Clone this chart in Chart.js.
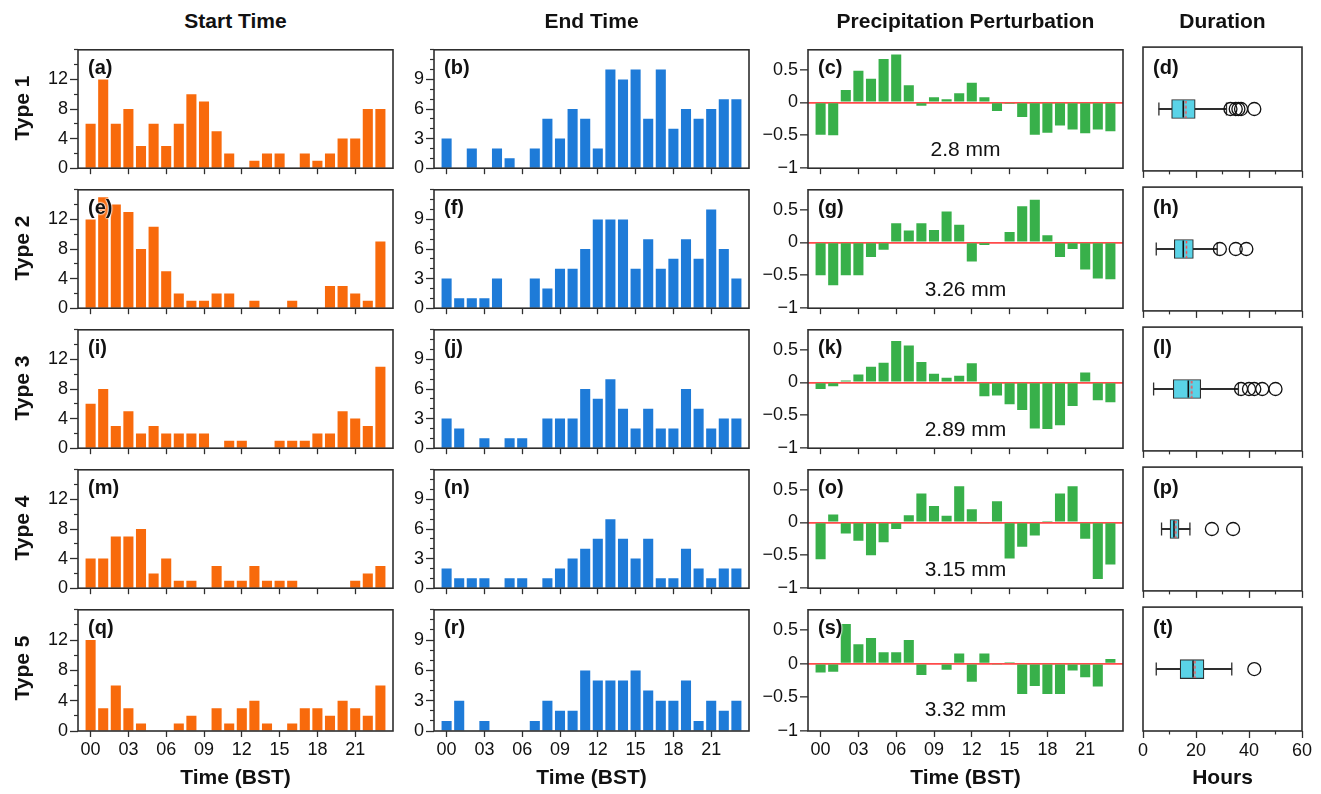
<!DOCTYPE html>
<html>
<head>
<meta charset="utf-8">
<script src="https://cdn.jsdelivr.net/npm/chart.js@4.4.1/dist/chart.umd.min.js"></script>
<style>
  body { margin: 0; background: #fff; width: 1321px; height: 794px; position: relative; overflow: hidden;
         font-family: 'Liberation Sans', Arial, Helvetica, sans-serif; color: #111; }
  canvas { position: absolute; }
  .lbl { position: absolute; white-space: nowrap; z-index: 5; }
</style>
</head>
<body>
<script>
// ---- data ----
const HOURS = [0,1,2,3,4,5,6,7,8,9,10,11,12,13,14,15,16,17,18,19,20,21,22,23];
const HOUR_TICKS = [0,3,6,9,12,15,18,21];
const HOUR_LABELS = ['00','03','06','09','12','15','18','21'];
const TYPE_NAMES = ['Type 1','Type 2','Type 3','Type 4','Type 5'];
const COL_TITLES = ['Start Time','End Time','Precipitation Perturbation','Duration'];
const PANEL_LETTERS = [['(a)','(b)','(c)','(d)'],['(e)','(f)','(g)','(h)'],['(i)','(j)','(k)','(l)'],
                       ['(m)','(n)','(o)','(p)'],['(q)','(r)','(s)','(t)']];
const MM_LABELS = ['2.8 mm','3.26 mm','2.89 mm','3.15 mm','3.32 mm'];

const START_1 = [6,12,6,8,3,6,3,6,10,9,5,2,0,1,2,2,0,2,1,2,4,4,8,8];
const START_2 = [12,15,14,13,8,11,5,2,1,1,2,2,0,1,0,0,1,0,0,3,3,2,1,9];
const START_3 = [6,8,3,5,2,3,2,2,2,2,0,1,1,0,0,1,1,1,2,2,5,4,3,11];
const START_4 = [4,4,7,7,8,2,4,1,1,0,3,1,1,3,1,1,1,0,0,0,0,1,2,3];
const START_5 = [12,3,6,3,1,0,0,1,2,0,3,1,3,4,1,0,1,3,3,2,4,3,2,6];

const END_1 = [3,0,2,0,2,1,0,2,5,3,6,5,2,10,9,10,5,10,4,6,5,6,7,7];
const END_2 = [3,1,1,1,3,0,0,3,2,4,4,6,9,9,9,4,7,4,5,7,5,10,6,3];
const END_3 = [3,2,0,1,0,1,1,0,3,3,3,6,5,7,4,2,4,2,2,6,4,2,3,3];
const END_4 = [2,1,1,1,0,1,1,0,1,2,3,4,5,7,5,3,5,1,1,4,2,1,2,2];
const END_5 = [1,3,0,1,0,0,0,1,3,2,2,6,5,5,5,6,4,3,3,5,1,3,2,3];

const PRECIP_1 = [-0.49,-0.5,0.19,0.48,0.36,0.66,0.73,0.26,-0.05,0.08,0.05,0.14,0.3,0.08,-0.13,-0.02,-0.22,-0.49,-0.46,-0.35,-0.41,-0.47,-0.41,-0.44];
const PRECIP_2 = [-0.5,-0.65,-0.5,-0.5,-0.22,-0.11,0.29,0.18,0.29,0.19,0.47,0.27,-0.29,-0.04,0,0.16,0.55,0.65,0.11,-0.22,-0.1,-0.41,-0.55,-0.56];
const PRECIP_3 = [-0.1,-0.06,0.03,0.12,0.24,0.3,0.63,0.56,0.31,0.13,0.07,0.1,0.29,-0.21,-0.2,-0.33,-0.42,-0.7,-0.71,-0.65,-0.36,0.15,-0.27,-0.3];
const PRECIP_4 = [-0.56,0.12,-0.17,-0.28,-0.5,-0.3,-0.1,0.11,0.44,0.25,0.1,0.55,0.2,-0.01,0.32,-0.55,-0.37,-0.2,0.02,0.44,0.55,-0.25,-0.86,-0.64];
const PRECIP_5 = [-0.13,-0.12,0.59,0.29,0.38,0.17,0.17,0.35,-0.17,0,-0.09,0.15,-0.27,0.15,-0.01,0.02,-0.45,-0.33,-0.45,-0.45,-0.1,-0.2,-0.34,0.07];

// duration box plots (hours), one value per type
const DUR_LOW  = [6, 5, 4, 7, 5];
const DUR_Q1   = [10.8, 11.8, 11.4, 10.2, 14];
const DUR_MED  = [15.2, 15.2, 17.1, 11.7, 18.9];
const DUR_MEAN = [16.2, 16.4, 18.4, 12.4, 19.6];
const DUR_Q3   = [19.7, 19, 21.8, 13.6, 23];
const DUR_HIGH = [31.5, 28, 36, 17.7, 33.5];
const DUR_OUT_1 = [33, 35, 36, 37, 42];
const DUR_OUT_2 = [29, 35, 39];
const DUR_OUT_3 = [37, 40, 42, 45, 50];
const DUR_OUT_4 = [26, 34];
const DUR_OUT_5 = [42];

const START_Y_TICKS = [0,4,8,12];
const START_Y_MINOR = [2,6,10,14,16];
const END_Y_TICKS = [0,3,6,9];
const END_Y_MINOR = [1,2,4,5,7,8,10,11,12];
const PRECIP_Y_TICKS = [-1,-0.5,0,0.5];
const PRECIP_Y_LABELS = ['\u22121','\u22120.5','0','0.5'];
const DUR_X_TICKS = [0,20,40,60];
const DUR_X_MINOR = [10,30,50];

const START = [START_1, START_2, START_3, START_4, START_5];
const END = [END_1, END_2, END_3, END_4, END_5];
const PRECIP = [PRECIP_1, PRECIP_2, PRECIP_3, PRECIP_4, PRECIP_5];
const DUR_OUT = [DUR_OUT_1, DUR_OUT_2, DUR_OUT_3, DUR_OUT_4, DUR_OUT_5];

// ---- layout / style ----
const COL_LEFT = [78, 434, 808, 1143];
const COL_RIGHT = [393, 749, 1123, 1302];
const ROW_TOP = [45, 185, 325, 465, 605];
const PLOT_H = 126;
const AX = '#2e2e2e';
const TXT = '#111';
const ORANGE = '#f86a0c', BLUE = '#1e7bd8', GREEN = '#38b04a', CYAN = '#5ad3e7', ZERO = '#ff4a4a';
const TICK_FONT = { size: 18 };
Chart.defaults.font.family = "'Liberation Sans', Arial, sans-serif";
Chart.defaults.color = TXT;

const framePlugin = {
  id: 'frame',
  afterDraw(chart) {
    const a = chart.chartArea, c = chart.ctx;
    c.save();
    c.strokeStyle = AX; c.lineWidth = 1.6;
    c.strokeRect(a.left, a.top, a.right - a.left, a.bottom - a.top);
    c.restore();
  }
};

const fixedTicks = list => s => { s.ticks = list.map(v => ({ value: v })); };

function makeCanvas(col, row) {
  const bottom = row === 4;
  const L = col < 3 ? 56 : 16, R = col < 3 ? 8 : 16, T = 8, B = bottom ? 34 : 10;
  const w = COL_RIGHT[col] - COL_LEFT[col] + L + R, h = PLOT_H + T + B;
  const cv = document.createElement('canvas');
  cv.width = w; cv.height = h;
  cv.style.left = (COL_LEFT[col] - L) + 'px';
  cv.style.top = (ROW_TOP[row] - T) + 'px';
  cv.style.width = w + 'px'; cv.style.height = h + 'px';
  document.body.appendChild(cv);
  return { cv, L, R, T, B, bottom };
}

function baseOptions(p, padLeft) {
  return {
    responsive: false, animation: false, events: [],
    layout: { padding: { left: padLeft, right: p.R, top: p.T, bottom: 0 } },
    plugins: { legend: { display: false }, tooltip: { enabled: false } }
  };
}

function timeX(p) {
  return {
    type: 'linear', axis: 'x', min: -1, max: 24, offset: false,
    afterBuildTicks: fixedTicks(HOUR_TICKS),
    afterFit: s => { s.height = p.B; },
    ticks: { display: p.bottom, autoSkip: false, maxRotation: 0, padding: 2, color: TXT,
             font: TICK_FONT, callback: (v, i) => HOUR_LABELS[i] },
    grid: { drawOnChartArea: false, offset: false, tickLength: 6, tickWidth: 1.3, tickColor: AX },
    border: { display: false }
  };
}

function countY(p, max, majors, minors) {
  return {
    y: { type: 'linear', axis: 'y', position: 'left', weight: 1, min: 0, max,
         afterBuildTicks: fixedTicks(majors), afterFit: s => { s.width = p.L; },
         ticks: { autoSkip: false, padding: 2, color: TXT, font: TICK_FONT },
         grid: { drawOnChartArea: false, tickLength: 8, tickWidth: 1.3, tickColor: AX },
         border: { display: false } },
    yMinor: { type: 'linear', axis: 'y', position: 'left', weight: 0, min: 0, max,
         afterBuildTicks: fixedTicks(minors), afterFit: s => { s.width = 0; },
         ticks: { display: false },
         grid: { drawOnChartArea: false, tickLength: 4, tickWidth: 1.2, tickColor: AX },
         border: { display: false } }
  };
}

function barSet(values, color) {
  return {
    type: 'bar', xAxisID: 'x', yAxisID: 'y',
    data: HOURS.map((h, i) => ({ x: h, y: values[i] })),
    backgroundColor: color, borderWidth: 0,
    barPercentage: 0.8, categoryPercentage: 1
  };
}

function countPanel(col, row, values, color, max, majors, minors) {
  const p = makeCanvas(col, row);
  const opts = baseOptions(p, 0);
  opts.scales = Object.assign({ x: timeX(p) }, countY(p, max, majors, minors));
  new Chart(p.cv, { type: 'bar', data: { datasets: [barSet(values, color)] }, options: opts, plugins: [framePlugin] });
}

function precipPanel(row) {
  const p = makeCanvas(2, row);
  const opts = baseOptions(p, 0);
  opts.scales = {
    x: timeX(p),
    y: { type: 'linear', axis: 'y', position: 'left', min: -1, max: 0.8, z: 1,
         afterBuildTicks: fixedTicks(PRECIP_Y_TICKS), afterFit: s => { s.width = p.L; },
         ticks: { autoSkip: false, padding: 2, color: TXT, font: TICK_FONT, callback: (v, i) => PRECIP_Y_LABELS[i] },
         grid: { drawOnChartArea: true, lineWidth: 1.7,
                 color: c => (c.tick && c.tick.value === 0) ? ZERO : 'rgba(0,0,0,0)',
                 tickLength: 8, tickWidth: 1.3, tickColor: AX },
         border: { display: false } }
  };
  new Chart(p.cv, { type: 'bar', data: { datasets: [barSet(PRECIP[row], GREEN)] }, options: opts, plugins: [framePlugin] });
}

function dashMark(h) {
  const c = document.createElement('canvas');
  c.width = 3; c.height = h;
  const g = c.getContext('2d');
  g.strokeStyle = ZERO; g.lineWidth = 1.6; g.setLineDash([3, 2.2]);
  g.beginPath(); g.moveTo(1.5, 0); g.lineTo(1.5, h); g.stroke();
  return c;
}
const MEAN_MARK = dashMark(17);

function durationPanel(row) {
  const p = makeCanvas(3, row);
  const opts = baseOptions(p, p.L);
  opts.scales = {
    x: { type: 'linear', axis: 'x', position: 'bottom', weight: 1, min: 0, max: 60, offset: false,
         afterBuildTicks: fixedTicks(DUR_X_TICKS), afterFit: s => { s.height = p.B; },
         ticks: { display: p.bottom, autoSkip: false, maxRotation: 0, padding: 2, color: TXT, font: TICK_FONT },
         grid: { drawOnChartArea: false, offset: false, tickLength: 7, tickWidth: 1.3, tickColor: AX },
         border: { display: false } },
    xMinor: { type: 'linear', axis: 'x', position: 'bottom', weight: 0, min: 0, max: 60, offset: false,
         afterBuildTicks: fixedTicks(DUR_X_MINOR), afterFit: s => { s.height = 0; },
         ticks: { display: false },
         grid: { drawOnChartArea: false, offset: false, tickLength: 3.5, tickWidth: 1.2, tickColor: AX },
         border: { display: false } },
    y: { type: 'linear', axis: 'y', min: -1, max: 1, display: false, offset: false, grid: { offset: false } }
  };
  const ids = { xAxisID: 'x', yAxisID: 'y' };
  const datasets = [
    Object.assign({ type: 'bar', indexAxis: 'y', grouped: false, order: 4,
      data: [{ y: 0, x: [DUR_LOW[row], DUR_HIGH[row]] }],
      barThickness: 1.3, backgroundColor: AX, borderWidth: 0 }, ids),
    Object.assign({ type: 'bar', indexAxis: 'y', grouped: false, order: 3,
      data: [{ y: 0, x: [DUR_Q1[row], DUR_Q3[row]] }],
      barThickness: 19, backgroundColor: CYAN, borderColor: AX, borderWidth: 1.2, borderSkipped: false }, ids),
    Object.assign({ type: 'scatter', order: 2,
      data: [{ x: DUR_LOW[row], y: 0 }, { x: DUR_HIGH[row], y: 0 }],
      pointStyle: 'line', rotation: 90, radius: 6.5, borderColor: AX, borderWidth: 1.3 }, ids),
    Object.assign({ type: 'scatter', order: 1,
      data: [{ x: DUR_MED[row], y: 0 }],
      pointStyle: 'line', rotation: 90, radius: 8.5, borderColor: '#111', borderWidth: 1.6 }, ids),
    Object.assign({ type: 'scatter', order: 0,
      data: [{ x: DUR_MEAN[row], y: 0 }],
      pointStyle: MEAN_MARK, radius: 8 }, ids),
    Object.assign({ type: 'scatter', order: 0,
      data: DUR_OUT[row].map(v => ({ x: v, y: 0 })),
      pointStyle: 'circle', radius: 6.5, borderColor: '#111', borderWidth: 1.3,
      backgroundColor: 'rgba(0,0,0,0)' }, ids)
  ];
  new Chart(p.cv, { type: 'scatter', data: { datasets }, options: opts, plugins: [framePlugin] });
}

for (let r = 0; r < 5; r++) {
  countPanel(0, r, START[r], ORANGE, 16, START_Y_TICKS, START_Y_MINOR);
  countPanel(1, r, END[r], BLUE, 12, END_Y_TICKS, END_Y_MINOR);
  precipPanel(r);
  durationPanel(r);
}

// ---- text ----
function label(str, x, y, css, mode) {
  const d = document.createElement('div');
  d.className = 'lbl';
  d.textContent = str;
  let tf = 'translate(-50%,-50%)';
  if (mode === 'rot') tf += ' rotate(-90deg)';
  if (mode === 'left') tf = 'translate(0,-50%)';
  d.style.cssText += `left:${x}px;top:${y}px;transform:${tf};${css}`;
  document.body.appendChild(d);
}

const BOLD = 'font-weight:bold;font-size:21px;';
COL_TITLES.forEach((t, c) => label(t, (COL_LEFT[c] + COL_RIGHT[c]) / 2, 21, BOLD));
TYPE_NAMES.forEach((t, r) => label(t, 22, ROW_TOP[r] + PLOT_H / 2, BOLD, 'rot'));
for (let r = 0; r < 5; r++) {
  for (let c = 0; c < 4; c++) {
    label(PANEL_LETTERS[r][c], COL_LEFT[c] + 10, ROW_TOP[r] + 22,
      'font-weight:bold;font-size:20px;text-shadow:0 0 2px #fff,0 0 2px #fff,0 0 2px #fff;', 'left');
  }
  label(MM_LABELS[r], (COL_LEFT[2] + COL_RIGHT[2]) / 2, ROW_TOP[r] + 104, 'font-size:21px;');
}
for (let c = 0; c < 3; c++) label('Time (BST)', (COL_LEFT[c] + COL_RIGHT[c]) / 2, 777, BOLD);
label('Hours', (COL_LEFT[3] + COL_RIGHT[3]) / 2, 777, BOLD);
</script>
</body>
</html>
